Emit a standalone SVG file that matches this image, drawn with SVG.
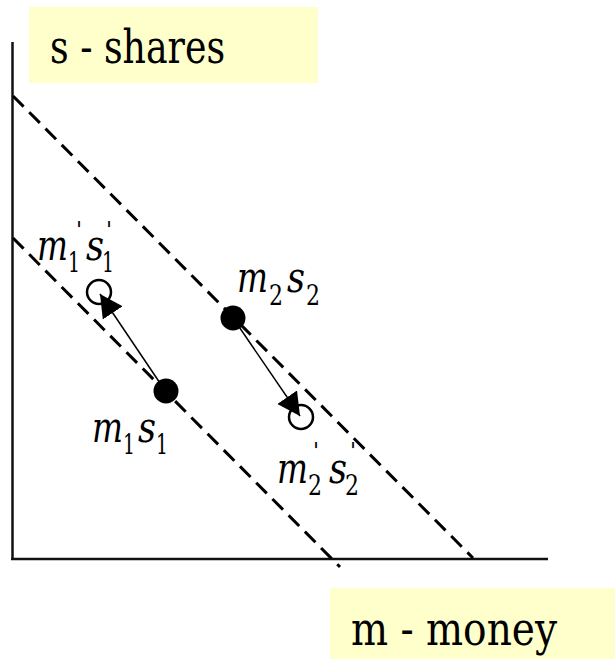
<svg xmlns="http://www.w3.org/2000/svg" width="615" height="659" viewBox="0 0 615 659">
<style>
.box{fill:#FFFFCC;stroke:none}
text{font-family:'DejaVu Serif',serif;fill:#000}
.title{font-size:46px}
.axis{stroke:#111;stroke-width:2.5;fill:none}
.budget{stroke:#000;stroke-width:3;stroke-dasharray:15 8;fill:none}
.move{stroke:#000;stroke-width:1.5;fill:none}
.var{font-style:italic;font-size:42px}
.sub{font-style:normal;font-size:27px}
.prime{font-style:normal;font-size:22px}
.dot{fill:#000}
.open{fill:none;stroke:#000;stroke-width:2.5}
</style>
<defs>
<marker id="ah" markerUnits="userSpaceOnUse" markerWidth="24" markerHeight="26" viewBox="0 -12 22 24" refX="21" refY="0" orient="auto">
<path d="M0,-11 L21,0 L0,11 z" fill="#000"/>
</marker>
</defs>
<rect width="615" height="659" fill="#fff"/>
<g id="label-shares">
<rect class="box" x="29" y="7" width="289" height="76"/>
<text class="title" x="50" y="63" textLength="175" lengthAdjust="spacingAndGlyphs">s - shares</text>
</g>
<g id="label-money">
<rect class="box" x="330" y="588" width="285" height="71"/>
<text class="title" x="351" y="645" textLength="206" lengthAdjust="spacingAndGlyphs">m - money</text>
</g>
<g id="axes">
<line class="axis" x1="12.5" y1="42" x2="12.5" y2="560"/>
<line class="axis" x1="11" y1="559" x2="548" y2="559"/>
</g>
<g id="budget-lines">
<line class="budget" x1="13" y1="96" x2="473" y2="558"/>
<line class="budget" x1="13" y1="238" x2="340" y2="567"/>
</g>
<g id="connectors">
<line class="move" x1="166" y1="392" x2="100" y2="294" marker-end="url(#ah)"/>
<line class="move" x1="233" y1="318" x2="300" y2="416" marker-end="url(#ah)"/>
</g>
<g id="point-m1s1">
<circle class="dot" cx="166" cy="391" r="12.5"/>
<text class="var"><tspan x="92" y="442" textLength="31" lengthAdjust="spacingAndGlyphs">m</tspan><tspan class="sub" x="123" y="454" textLength="12" lengthAdjust="spacingAndGlyphs">1</tspan><tspan x="138" y="442" textLength="18" lengthAdjust="spacingAndGlyphs">s</tspan><tspan class="sub" x="156" y="454" textLength="12" lengthAdjust="spacingAndGlyphs">1</tspan></text>
</g>
<g id="point-m1s1-prime">
<circle class="open" cx="99" cy="292" r="12"/>
<text class="var"><tspan x="37" y="260" textLength="31" lengthAdjust="spacingAndGlyphs">m</tspan><tspan class="prime" x="76" y="237">'</tspan><tspan class="sub" x="68" y="272" textLength="12" lengthAdjust="spacingAndGlyphs">1</tspan><tspan x="86" y="260" textLength="18" lengthAdjust="spacingAndGlyphs">s</tspan><tspan class="prime" x="106" y="237">'</tspan><tspan class="sub" x="102" y="272" textLength="12" lengthAdjust="spacingAndGlyphs">1</tspan></text>
</g>
<g id="point-m2s2">
<circle class="dot" cx="233" cy="318" r="12.5"/>
<text class="var"><tspan x="237" y="292" textLength="31" lengthAdjust="spacingAndGlyphs">m</tspan><tspan class="sub" x="269" y="305" textLength="14" lengthAdjust="spacingAndGlyphs">2</tspan><tspan x="287" y="292" textLength="18" lengthAdjust="spacingAndGlyphs">s</tspan><tspan class="sub" x="306" y="305" textLength="14" lengthAdjust="spacingAndGlyphs">2</tspan></text>
</g>
<g id="point-m2s2-prime">
<circle class="open" cx="301" cy="417" r="12"/>
<text class="var"><tspan x="277" y="483" textLength="31" lengthAdjust="spacingAndGlyphs">m</tspan><tspan class="prime" x="313" y="458">'</tspan><tspan class="sub" x="308" y="495" textLength="14" lengthAdjust="spacingAndGlyphs">2</tspan><tspan x="329" y="483" textLength="18" lengthAdjust="spacingAndGlyphs">s</tspan><tspan class="prime" x="350" y="458">'</tspan><tspan class="sub" x="345" y="495" textLength="14" lengthAdjust="spacingAndGlyphs">2</tspan></text>
</g>
</svg>
